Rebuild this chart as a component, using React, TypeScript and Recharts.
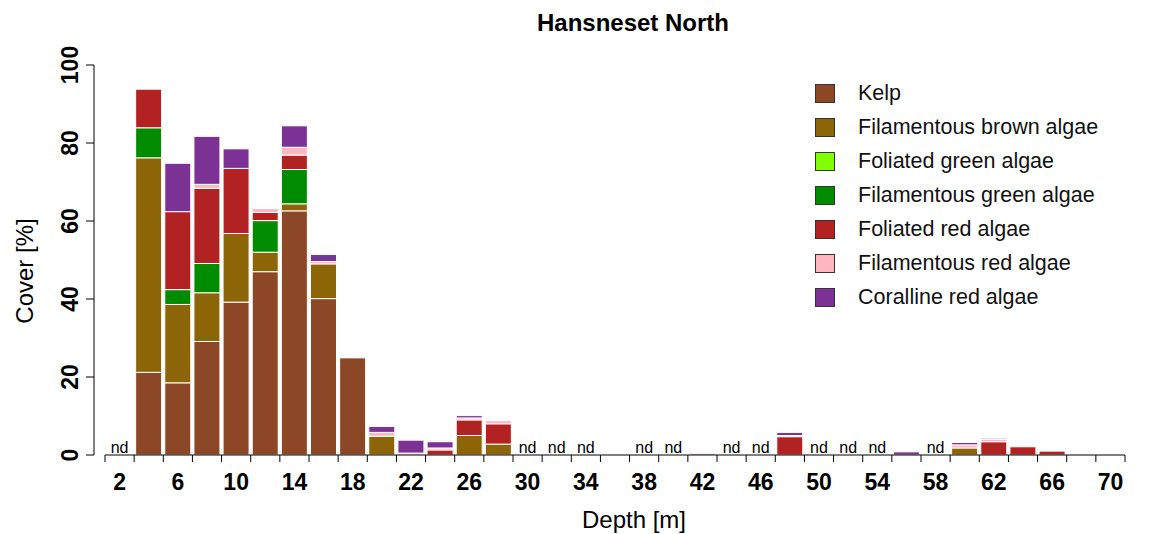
import React from 'react';
import { BarChart, Bar, XAxis, YAxis, Label } from 'recharts';

const depths = [2, 4, 6, 8, 10, 12, 14, 16, 18, 20, 22, 24, 26, 28, 30, 32, 34, 36, 38, 40, 42, 44, 46, 48, 50, 52, 54, 56, 58, 60, 62, 64, 66, 68, 70];
const noData = [2, 30, 32, 34, 38, 40, 44, 46, 50, 52, 54, 58];

const kelp = [0, 21.2, 18.5, 29.1, 39.2, 47.0, 62.6, 40.1, 24.9, 0, 0, 0, 0, 0, 0, 0, 0, 0, 0, 0, 0, 0, 0, 0, 0, 0, 0, 0, 0, 0, 0, 0, 0, 0, 0];
const filBrown = [0, 55.0, 20.1, 12.5, 17.6, 5.0, 1.8, 8.9, 0, 4.8, 0, 0, 5.0, 2.8, 0, 0, 0, 0, 0, 0, 0, 0, 0, 0, 0, 0, 0, 0, 0, 1.8, 0, 0, 0, 0, 0];
const folGreen = [0, 0, 0, 0, 0, 0, 0, 0, 0, 0, 0, 0, 0, 0, 0, 0, 0, 0, 0, 0, 0, 0, 0, 0, 0, 0, 0, 0, 0, 0, 0, 0, 0, 0, 0];
const filGreen = [0, 7.7, 3.8, 7.5, 0, 8.1, 8.8, 0, 0, 0, 0, 0, 0, 0, 0, 0, 0, 0, 0, 0, 0, 0, 0, 0, 0, 0, 0, 0, 0, 0, 0, 0, 0, 0, 0];
const folRed = [0, 9.9, 20.0, 19.3, 16.7, 2.1, 3.7, 0, 0, 0, 0, 1.3, 4.0, 5.2, 0, 0, 0, 0, 0, 0, 0.3, 0, 0, 4.7, 0, 0, 0, 0, 0, 0, 3.4, 2.1, 1.0, 0, 0];
const filRed = [0, 0, 0, 1.0, 0, 1.0, 2.0, 0.6, 0, 1.0, 0.5, 0.5, 0.5, 0.8, 0, 0, 0, 0, 0, 0, 0, 0, 0, 0.3, 0, 0, 0, 0, 0, 0.8, 0.6, 0, 0, 0, 0];
const coralline = [0, 0, 12.4, 12.3, 5.0, 0, 5.5, 1.8, 0, 1.5, 3.3, 1.6, 0.6, 0, 0, 0, 0, 0, 0, 0, 0, 0, 0, 0.8, 0, 0, 0, 0.8, 0, 0.6, 0.3, 0, 0, 0, 0];

const yTicks = [0, 20, 40, 60, 80, 100];

const series = [
  { key: 'kelp', name: 'Kelp', color: '#8B4726', values: kelp },
  { key: 'filBrown', name: 'Filamentous brown algae', color: '#8B6508', values: filBrown },
  { key: 'folGreen', name: 'Foliated green algae', color: '#7FFF00', values: folGreen },
  { key: 'filGreen', name: 'Filamentous green algae', color: '#008B00', values: filGreen },
  { key: 'folRed', name: 'Foliated red algae', color: '#B22222', values: folRed },
  { key: 'filRed', name: 'Filamentous red algae', color: '#FFB6C1', values: filRed },
  { key: 'coralline', name: 'Coralline red algae', color: '#7B3294', values: coralline },
];

const data = depths.map((d, i) => {
  const row: Record<string, number | boolean> = { depth: d, nd: noData.includes(d) };
  series.forEach(s => { row[s.key] = s.values[i]; });
  return row;
});

const W = 1154;
const H = 534;
const FONT = '"Liberation Sans", Arial, Helvetica, sans-serif';
const BAR_LEFT = 105;
const BAR_RIGHT = 1125;
const BAND = (BAR_RIGHT - BAR_LEFT) / depths.length;

const DepthTick = (props: any) => {
  const { x, y, index, payload } = props;
  const left = x - BAND / 2;
  const right = x + BAND / 2;
  const isLast = index === depths.length - 1;
  const nd = noData.includes(payload.value);
  return (
    <g>
      <line x1={left} x2={right} y1={y} y2={y} stroke="#000" strokeWidth={1} />
      <line x1={left} x2={left} y1={y} y2={y + 7} stroke="#000" strokeWidth={1} />
      {isLast && <line x1={right} x2={right} y1={y} y2={y + 7} stroke="#000" strokeWidth={1} />}
      {nd && (
        <text x={x} y={y - 2} textAnchor="middle" fontSize={16} fontFamily={FONT} fill="#000">nd</text>
      )}
      {index % 2 === 0 && (
        <text x={x} y={y + 35} textAnchor="middle" fontSize={23} fontWeight="bold" fontFamily={FONT} fill="#000">
          {payload.value}
        </text>
      )}
    </g>
  );
};

const CoverTick = (props: any) => {
  const { y, payload } = props;
  return (
    <text
      transform={`translate(70,${y}) rotate(-90)`}
      textAnchor="middle"
      dy="0.36em"
      fontSize={23}
      fontWeight="bold"
      fontFamily={FONT}
      fill="#000"
    >
      {payload.value}
    </text>
  );
};

const App: React.FC = () => {
  return (
    <div style={{ position: 'absolute', left: 0, top: 0, width: W, height: H, background: '#fff', fontFamily: FONT }}>
      <div style={{ position: 'absolute', left: 0, width: W, top: 9, textAlign: 'center', fontSize: 24, fontWeight: 'bold', paddingLeft: 112, boxSizing: 'border-box' }}>
        Hansneset North
      </div>

      <BarChart width={W} height={H} data={data} margin={{ top: 65, right: W - BAR_RIGHT, left: 0, bottom: 0 }} barCategoryGap={1.5}>
        <XAxis
          dataKey="depth"
          interval={0}
          axisLine={false}
          tickLine={false}
          tickSize={0}
          tickMargin={0}
          height={H - 455}
          padding={{ left: BAR_LEFT - 94, right: 0 }}
          tick={<DepthTick />}
        >
          <Label
            content={() => (
              <text x={634} y={528} textAnchor="middle" fontSize={24} fontFamily={FONT} fill="#000">Depth [m]</text>
            )}
          />
        </XAxis>
        <YAxis
          width={94}
          domain={[0, 100]}
          ticks={yTicks}
          interval={0}
          tickSize={8}
          stroke="#000"
          axisLine={{ stroke: '#000' }}
          tickLine={{ stroke: '#000' }}
          tick={<CoverTick />}
        >
          <Label
            content={() => (
              <text transform="translate(24,271) rotate(-90)" textAnchor="middle" dy="0.36em" fontSize={24} fontFamily={FONT} fill="#000">
                Cover [%]
              </text>
            )}
          />
        </YAxis>
        {series.map(s => (
          <Bar
            key={s.key}
            dataKey={s.key}
            name={s.name}
            stackId="cover"
            fill={s.color}
            stroke="#fff"
            strokeWidth={1}
            isAnimationActive={false}
          />
        ))}
      </BarChart>

      <div style={{ position: 'absolute', left: 815, top: 76 }}>
        {series.map(s => (
          <div key={s.key} style={{ display: 'flex', alignItems: 'center', height: 34 }}>
            <div style={{ width: 18, height: 17, background: s.color, border: '1px solid #333', marginRight: 23 }} />
            <span style={{ fontSize: 21.5, color: '#111' }}>{s.name}</span>
          </div>
        ))}
      </div>
    </div>
  );
};

export default App;
